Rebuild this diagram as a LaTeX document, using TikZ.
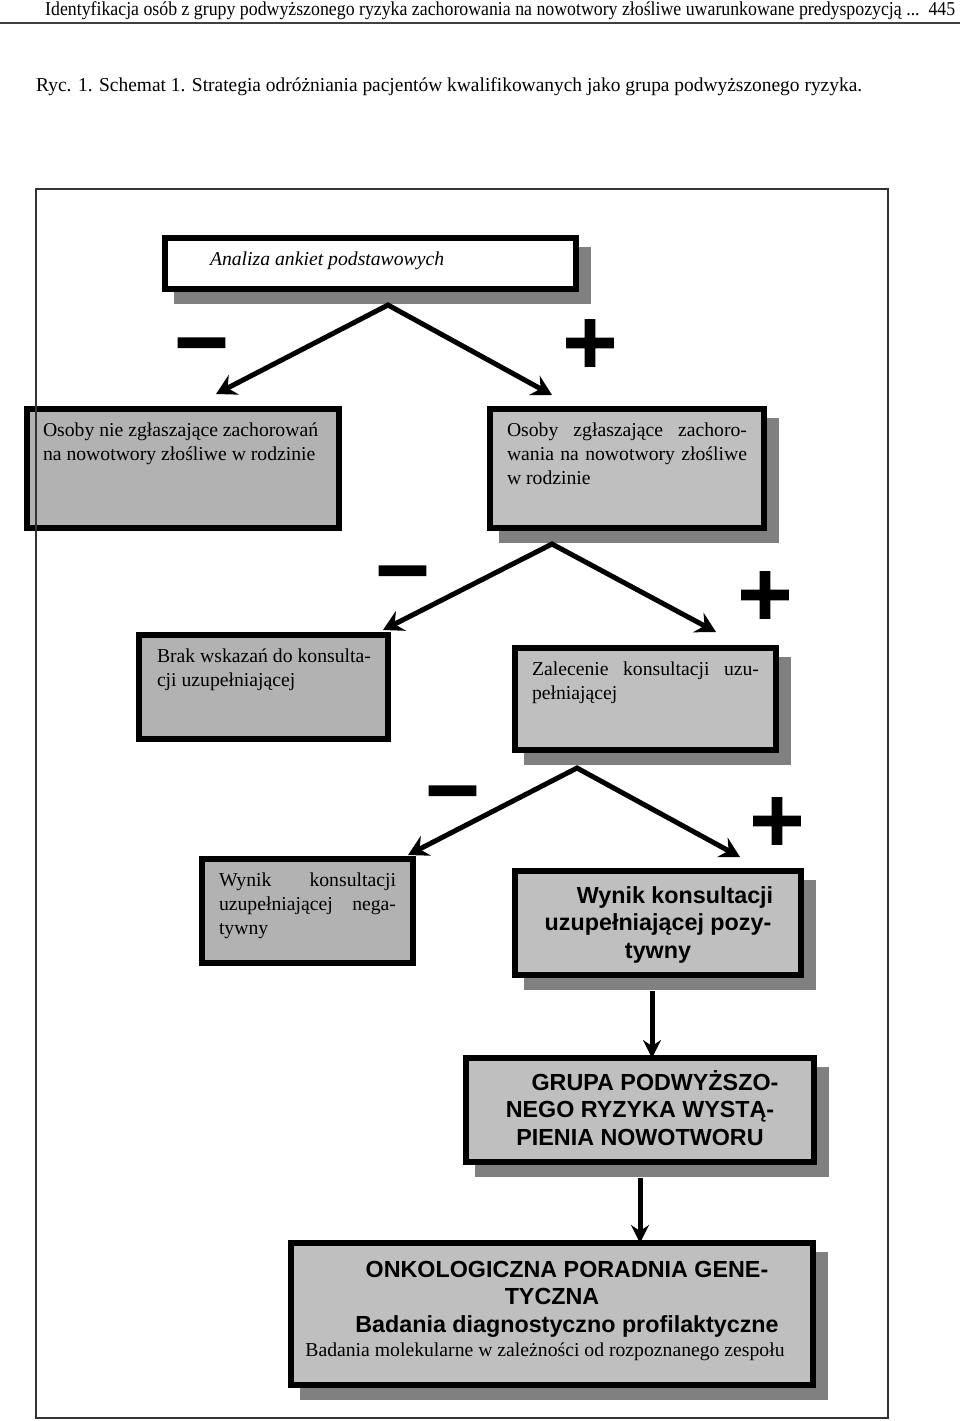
\documentclass[tikz,border=0pt]{standalone}
\usepackage{fontspec}
\setmainfont{Liberation Serif}
\newfontfamily\sansb{Liberation Sans}
\newfontfamily\signfont{DejaVu Sans Bold}[FakeBold=3.5]
\usetikzlibrary{arrows.meta,shadows}
\definecolor{fillR}{gray}{0.75}
\definecolor{fillL}{gray}{0.70}
\definecolor{shadc}{gray}{0.50}
\definecolor{framec}{gray}{0.20}
\newcommand\bt[4]{\parbox[c][#1][t]{#2}{\rule{0pt}{#3}#4}}
\newcommand\Ll[1]{\makebox[\linewidth][l]{#1}}
\newcommand\Lj[1]{\makebox[\linewidth][s]{#1}}
\newcommand\Lc[1]{\makebox[\linewidth][c]{#1}}
\newsavebox\hdrA
\newsavebox\hdrB
\tikzset{
  bx/.style={draw=black, line width=6pt, rectangle, inner sep=0pt, outer sep=0pt,
    font=\fontsize{19.7}{24}\selectfont, text=black},
  bxsans/.style={font=\sansb\bfseries\fontsize{23.3}{27.5}\selectfont},
  shadowed/.style={general shadow={fill=shadc, draw=shadc, line width=6pt,
    shadow xshift=12pt, shadow yshift=-12pt}},
  sgn/.style={inner sep=0pt, font=\signfont\fontsize{72}{72}\selectfont},
  fork/.style={line width=5pt, line join=miter,
    {Stealth[length=20pt,width=22pt,inset=7pt]}-{Stealth[length=20pt,width=22pt,inset=7pt]}},
  down/.style={line width=5pt, -{Stealth[length=18pt,width=18pt,inset=6pt]}},
  txt/.style={inner sep=0pt, anchor=base west}
}
\begin{document}
\sbox\hdrA{\fontsize{19.7}{24}\selectfont Identyfikacja osób z grupy podwyższonego ryzyka zachorowania na nowotwory złośliwe uwarunkowane predyspozycją ...\ \ 445}%
\sbox\hdrB{\fontsize{19.7}{24}\selectfont Ryc. 1. Schemat 1. Strategia odróżniania pacjentów kwalifikowanych jako grupa podwyższonego ryzyka.}%
\pgfmathsetmacro\hsA{910/\the\wd\hdrA}%
\pgfmathsetmacro\hsB{826/\the\wd\hdrB}%
\begin{tikzpicture}[x=1pt,y=-1pt]
\useasboundingbox (0,0) rectangle (960,1421);
\fill[white] (0,0) rectangle (960,1421);
% headers
\node[txt] (hdr) at (45,16) {\scalebox{\hsA}[1]{\usebox\hdrA}};
\draw[line width=2pt, black!75] (0,23) -- (960,23);
\node[txt] (cap) at (36,92) {\scalebox{\hsB}[1]{\usebox\hdrB}};

% boxes
\node[bx, fill=white, shadowed, minimum width=411pt, minimum height=51pt] (top) at (370.5,263.5)
  {\bt{51pt}{321pt}{27pt}{\Ll{\itshape Analiza ankiet podstawowych}}};
\node[bx, fill=fillL, minimum width=312pt, minimum height=119pt] (nie) at (183,468.5)
  {\bt{119pt}{280pt}{27pt}{\Ll{Osoby nie zgłaszające zachorowań}\\\Ll{na nowotwory złośliwe w rodzinie}}};
\node[bx, fill=fillR, shadowed, minimum width=274pt, minimum height=119pt] (tak) at (627,468.5)
  {\bt{119pt}{240pt}{27pt}{\Lj{Osoby zgłaszające zachoro-}\\\Lj{wania na nowotwory złośliwe}\\\Ll{w rodzinie}}};
\node[bx, fill=fillL, minimum width=249pt, minimum height=104pt] (brak) at (263.5,687)
  {\bt{104pt}{213pt}{27pt}{\Ll{Brak wskazań do konsulta-}\\\Ll{cji uzupełniającej}}};
\node[bx, fill=fillR, shadowed, minimum width=261pt, minimum height=102pt] (zal) at (645.5,699)
  {\bt{102pt}{227pt}{27pt}{\Lj{Zalecenie konsultacji uzu-}\\\Ll{pełniającej}}};
\node[bx, fill=fillL, minimum width=211pt, minimum height=104pt] (neg) at (307.5,911)
  {\bt{104pt}{177pt}{27pt}{\Lj{Wynik konsultacji}\\\Lj{uzupełniającej nega-}\\\Ll{tywny}}};
\node[bx, bxsans, fill=fillR, shadowed, minimum width=286pt, minimum height=104pt] (poz) at (658,923)
  {\bt{104pt}{270pt}{32pt}{\Lc{\hspace{34pt}Wynik konsultacji}\\\Lc{uzupełniającej pozy-}\\\Lc{tywny}}};
\node[bx, bxsans, fill=fillR, shadowed, minimum width=348pt, minimum height=104pt] (grupa) at (640,1110)
  {\bt{104pt}{330pt}{32pt}{\Lc{\hspace{30pt}GRUPA PODWYŻSZO-}\\\Lc{NEGO RYZYKA WYSTĄ-}\\\Lc{PIENIA NOWOTWORU}}};
\node[bx, bxsans, fill=fillR, shadowed, minimum width=522pt, minimum height=142pt] (onko) at (552,1314)
  {\bt{142pt}{510pt}{34pt}{\Lc{\hspace{30pt}ONKOLOGICZNA PORADNIA GENE-}\\\Lc{TYCZNA}\\\Lc{\hspace{30pt}Badania diagnostyczno profilaktyczne}\\[-3pt]\Lc{\hspace{-14pt}{\rmfamily\mdseries\fontsize{19.7}{24}\selectfont Badania molekularne w zależności od rozpoznanego zespołu}}}};

% connectors
\coordinate (a1) at (388,305);
\coordinate (a1l) at (216,394);
\coordinate (a1r) at (552,395);
\draw[fork] (a1l) -- (a1) -- (a1r);
\coordinate (a2) at (552,544);
\coordinate (a2l) at (383,630);
\coordinate (a2r) at (716,632);
\draw[fork] (a2l) -- (a2) -- (a2r);
\coordinate (a3) at (577,768);
\coordinate (a3l) at (408,855);
\coordinate (a3r) at (740,857);
\draw[fork] (a3l) -- (a3) -- (a3r);
\coordinate (a4) at (652,991);
\draw[down] (a4) -- (a4 |- grupa.north);
\coordinate (a5) at (640,1178);
\draw[down] (a5) -- (a5 |- onko.north);

% signs
\node[sgn] (m1) at (201.5,352) {−};
\node[sgn] (p1) at (590,343) {+};
\node[sgn] (m2) at (402.5,580) {−};
\node[sgn] (p2) at (765,595) {+};
\node[sgn] (m3) at (452.5,800) {−};
\node[sgn] (p3) at (777,821) {+};

% outer frame
\draw[line width=2pt, framec] (36,189) rectangle (888,1418);
\end{tikzpicture}
\end{document}
